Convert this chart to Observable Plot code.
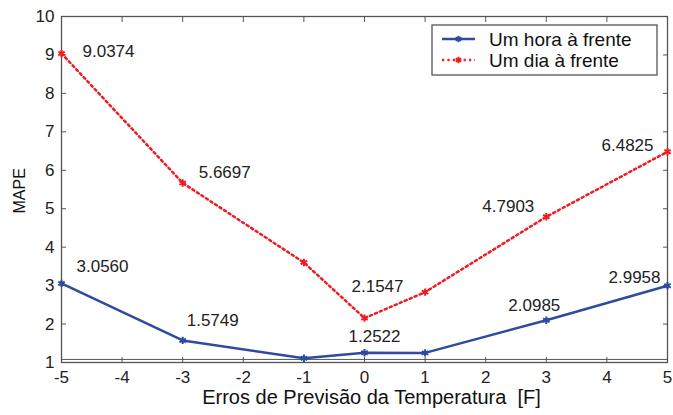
<!DOCTYPE html>
<html><head><meta charset="utf-8">
<script src="https://cdn.jsdelivr.net/npm/d3@7"></script>
<script src="https://cdn.jsdelivr.net/npm/@observablehq/plot@0.6"></script>
<style>body{margin:0;background:#fff;font-family:"Liberation Sans",Arial,sans-serif}#chart{position:relative;width:673px;height:415px}</style>
</head><body><div id="chart"></div>
<script>
const errors = [-5, -3, -1, 0, 1, 3, 5];
const hourAhead = [3.0560, 1.5749, 1.11, 1.2522, 1.25, 2.0985, 2.9958];
const dayAhead = [9.0374, 5.6697, 3.60, 2.1547, 2.83, 4.7903, 6.4825];
const hourLabels = ["3.0560", "1.5749", null, "1.2522", null, "2.0985", "2.9958"];
const dayLabels = ["9.0374", "5.6697", null, "2.1547", null, "4.7903", "6.4825"];
const xTicks = [-5, -4, -3, -2, -1, 0, 1, 2, 3, 4, 5];
const yTicks = [1, 2, 3, 4, 5, 6, 7, 8, 9, 10];
const seriesNames = ["Um hora à frente", "Um dia à frente"];
const floorLevel = 1.08;
const xLabel = "Erros de Previsão da Temperatura  [F]";
const yLabel = "MAPE";

const BLUE = "#2f4b9e", RED = "#ee1c25", FRAME = "#555";
const DOTS = "2.2,3.2";
const hourOffsets = [[41,-17],[30,-20],null,[10,-16],null,[-12,-15],[-33,-8]];
const dayOffsets = [[47,-2],[42,-10],null,[13,-32],null,[-38,-10],[-40,-6]];

const hourData = errors.map((x, i) => ({x, y: hourAhead[i], label: hourLabels[i]}));
const dayData = errors.map((x, i) => ({x, y: dayAhead[i], label: dayLabels[i]}));

function labelMarks(data, offsets) {
  return data.map((d, i) => d.label && offsets[i] ? Plot.text([d], {x: "x", y: "y", text: "label", dx: offsets[i][0], dy: offsets[i][1], fontSize: 17, fill: "#222"}) : null).filter(Boolean);
}
const fmt = d => String(d);

const plot = Plot.plot({
  width: 673, height: 415,
  marginLeft: 61, marginRight: 6, marginTop: 16, marginBottom: 53,
  style: {fontFamily: "Liberation Sans, Arial, sans-serif", fontSize: "17px", color: "#222", background: "#fff"},
  x: {domain: [-5, 5]},
  y: {domain: [1, 10]},
  marks: [
    Plot.ruleY([floorLevel], {stroke: FRAME, strokeWidth: 1}),
    Plot.axisX({anchor: "bottom", ticks: xTicks, tickFormat: fmt, tickSize: -5, tickPadding: 13, stroke: FRAME, label: null, fontSize: 17}),
    Plot.axisX({anchor: "top", ticks: xTicks, tickSize: -5, tickFormat: () => "", stroke: FRAME, label: null}),
    Plot.axisY({anchor: "left", ticks: yTicks, tickFormat: fmt, tickSize: -5, tickPadding: 12, stroke: FRAME, label: null, fontSize: 17}),
    Plot.axisY({anchor: "right", ticks: yTicks, tickSize: -5, tickFormat: () => "", stroke: FRAME, label: null}),
    Plot.frame({stroke: FRAME, strokeWidth: 1.3}),
    Plot.text([xLabel], {frameAnchor: "bottom", text: d => d, dy: 41, dx: 7, fontSize: 20, fill: "#111"}),
    Plot.text([yLabel], {frameAnchor: "left", text: d => d, dx: -42, dy: 24, rotate: -90, fontSize: 16, fill: "#111"}),
    Plot.line(dayData, {x: "x", y: "y", stroke: RED, strokeWidth: 2.5, strokeDasharray: DOTS}),
    Plot.dot(dayData, {x: "x", y: "y", stroke: RED, symbol: "asterisk", r: 3.5, strokeWidth: 2}),
    Plot.line(hourData, {x: "x", y: "y", stroke: BLUE, strokeWidth: 2.5}),
    Plot.dot(hourData, {x: "x", y: "y", stroke: BLUE, symbol: "asterisk", r: 3.5, strokeWidth: 2}),
    ...labelMarks(dayData, dayOffsets),
    ...labelMarks(hourData, hourOffsets)
  ]
});
document.getElementById("chart").append(plot);

// legend drawn inside the svg
const svg = d3.select(plot);
const lg = svg.append("g").attr("transform", "translate(432,25)");
lg.append("rect").attr("width", 225).attr("height", 50).attr("fill", "#fff").attr("stroke", FRAME).attr("stroke-width", 1.3);
const styles = [{stroke: BLUE, dash: null}, {stroke: RED, dash: DOTS}];
seriesNames.forEach((name, i) => {
  const y = 14 + i * 21;
  lg.append("line").attr("x1", 10).attr("x2", 43).attr("y1", y).attr("y2", y)
    .attr("stroke", styles[i].stroke).attr("stroke-width", 2.5).attr("stroke-dasharray", styles[i].dash);
  const s = d3.symbol(d3.symbolAsterisk, 30)();
  lg.append("path").attr("d", s).attr("transform", `translate(26.5,${y})`).attr("stroke", styles[i].stroke).attr("stroke-width", 2).attr("fill", "none");
  lg.append("text").attr("x", 57).attr("y", y).attr("dy", "0.35em").attr("text-anchor", "start").attr("font-size", 19).attr("fill", "#111").text(name);
});
</script>
</body></html>
